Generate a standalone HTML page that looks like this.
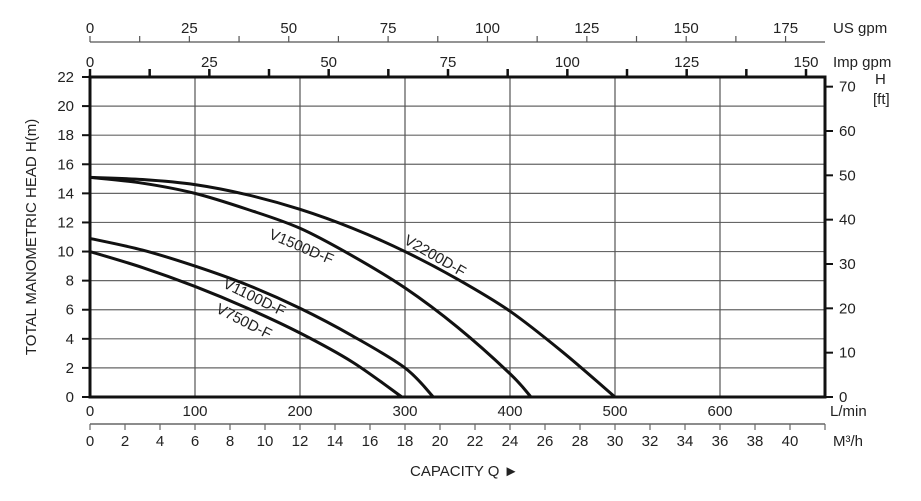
<!DOCTYPE html>
<html><head><meta charset="utf-8"><style>
html,body{margin:0;padding:0;background:#fff}
svg{display:block;font-family:"Liberation Sans",sans-serif}
</style></head><body>
<svg id="chart" width="921" height="501" viewBox="0 0 921 501" xmlns="http://www.w3.org/2000/svg">
<g id="grid"></g>
<g id="axes"></g>
<g id="series"></g>
<text transform="translate(36,237) rotate(-90)" text-anchor="middle" font-size="15" fill="#222">TOTAL MANOMETRIC HEAD H(m)</text>
<text x="410" y="476" font-size="15" fill="#222">CAPACITY  Q ►</text>
</svg>
<script>
const xTicksLmin=[0,100,200,300,400,500,600];
const yTicksM=[0,2,4,6,8,10,12,14,16,18,20,22];
const ftTicks=[0,10,20,30,40,50,60,70];
const usTicks=[0,25,50,75,100,125,150,175];
const impTicks=[0,25,50,75,100,125,150];
const m3Ticks=[0,2,4,6,8,10,12,14,16,18,20,22,24,26,28,30,32,34,36,38,40];
const seriesNames=["V750D-F","V1100D-F","V1500D-F","V2200D-F"];
const q750=[0,50,100,150,200,250,297];
const h750=[10,8.9,7.6,6.1,4.4,2.4,0];
const q1100=[0,50,100,150,200,250,300,327];
const h1100=[10.9,10.1,9.0,7.7,6.1,4.2,2.0,0];
const q1500=[0,50,100,150,200,250,300,350,400,420];
const h1500=[15.1,14.7,14.0,12.9,11.6,9.7,7.5,4.8,1.6,0];
const q2200=[0,50,100,150,200,250,300,350,400,450,500];
const h2200=[15.1,14.95,14.6,13.9,12.9,11.6,10.0,8.1,5.9,3.1,0];
const labelPos=[[215,312,27],[222,287,26],[268,238,23],[403,243,30]];

const X0=90,X1=825,Y0=397,Y1=77,QMAX=700,HMAX=22;
const xs=q=>X0+q*(X1-X0)/QMAX;
const ys=h=>Y0-h*(Y0-Y1)/HMAX;
const NS="http://www.w3.org/2000/svg";
function mk(parent,tag,attrs,text){const e=document.createElementNS(NS,tag);for(const k in attrs)e.setAttribute(k,attrs[k]);if(text!==undefined)e.textContent=text;parent.appendChild(e);return e;}
const grid=document.getElementById('grid'),axes=document.getElementById('axes'),series=document.getElementById('series');

yTicksM.forEach(v=>{
  const y=ys(v);
  const l=mk(grid,'line',{x1:X0,x2:X1,y1:y,y2:y,stroke:'#666','stroke-width':1.2});
  
  
  const t=mk(axes,'line',{x1:X0-8,x2:X0,y1:y,y2:y,stroke:'#111','stroke-width':2});
  
  
  const tx=mk(axes,'text',{x:X0-16,y:y+5,'text-anchor':'end','font-size':15,fill:'#222'},String(v));
  
  
});
xTicksLmin.forEach(v=>{
  const x=xs(v);
  if(v>0){const l=mk(grid,'line',{x1:x,x2:x,y1:Y1,y2:Y0,stroke:'#555','stroke-width':1.2});
  
  }
  const tx=mk(axes,'text',{x:x,y:416,'text-anchor':'middle','font-size':15,fill:'#222'},String(v));
  
  
});
ftTicks.forEach(v=>{
  const y=ys(v*0.3048);
  const t=mk(axes,'line',{x1:X1,x2:X1+8,y1:y,y2:y,stroke:'#111','stroke-width':2});
  
  
  const tx=mk(axes,'text',{x:X1+14,y:y+5,'font-size':15,fill:'#222'},String(v));
  
  
});
let ln=mk(axes,'line',{x1:X0,x2:X1,y1:42,y2:42,stroke:'#555','stroke-width':1.2});


for(let g=0;g*3.7854<=QMAX;g+=12.5){
  const x=xs(g*3.7854);
  const t=mk(axes,'line',{x1:x,x2:x,y1:42,y2:36,stroke:'#555','stroke-width':1.2});
  
  
}
usTicks.forEach(v=>{
  const tx=mk(axes,'text',{x:xs(v*3.7854),y:33,'text-anchor':'middle','font-size':15,fill:'#222'},String(v));
  
  
});
for(let g=0;g*4.5461<=QMAX;g+=12.5){
  const x=xs(g*4.5461);
  const t=mk(axes,'line',{x1:x,x2:x,y1:Y1,y2:Y1-8,stroke:'#111','stroke-width':2.5});
  
  
}
impTicks.forEach(v=>{
  const tx=mk(axes,'text',{x:xs(v*4.5461),y:67,'text-anchor':'middle','font-size':15,fill:'#222'},String(v));
  
  
});
ln=mk(axes,'line',{x1:X0,x2:X1,y1:424,y2:424,stroke:'#666','stroke-width':1.5});


for(let m=0;m*1000/60<=QMAX;m+=2){
  const x=xs(m*1000/60);
  const t=mk(axes,'line',{x1:x,x2:x,y1:424,y2:430,stroke:'#666','stroke-width':1.2});
  
  
}
m3Ticks.forEach(v=>{
  const tx=mk(axes,'text',{x:xs(v*1000/60),y:446,'text-anchor':'middle','font-size':15,fill:'#222'},String(v));
  
  
});
const fr=mk(axes,'rect',{x:X0,y:Y1,width:X1-X0,height:Y0-Y1,fill:'none',stroke:'#111','stroke-width':3});


[["US gpm",833,33],["Imp gpm",833,67],["H",875,84],["[ft]",873,104],["L/min",830,416],["M³/h",833,446]].forEach(a=>{
  const tx=mk(axes,'text',{x:a[1],y:a[2],'font-size':15,fill:'#222'},a[0]);
  
  
});
function pathFor(qs,hs){
  const p=qs.map((q,i)=>[xs(q),ys(hs[i])]);
  let d='M'+p[0][0]+','+p[0][1];
  for(let i=0;i<p.length-1;i++){
    const p0=p[Math.max(0,i-1)],p1=p[i],p2=p[i+1],p3=p[Math.min(p.length-1,i+2)];
    const c1=[p1[0]+(p2[0]-p0[0])/6,p1[1]+(p2[1]-p0[1])/6];
    const c2=[p2[0]-(p3[0]-p1[0])/6,p2[1]-(p3[1]-p1[1])/6];
    d+=' C'+c1[0]+','+c1[1]+' '+c2[0]+','+c2[1]+' '+p2[0]+','+p2[1];
  }
  return d;
}
const allQ=[q750,q1100,q1500,q2200],allH=[h750,h1100,h1500,h2200];
seriesNames.forEach((n,i)=>{
  const p=mk(series,'path',{d:pathFor(allQ[i],allH[i]),fill:'none',stroke:'#111','stroke-width':3});
  
  
  const lp=labelPos[i];
  const t=mk(series,'text',{x:lp[0],y:lp[1],'font-size':15,fill:'#222',transform:'rotate('+lp[2]+' '+lp[0]+' '+lp[1]+')'},n);
  
  
});
</script>
</body></html>
